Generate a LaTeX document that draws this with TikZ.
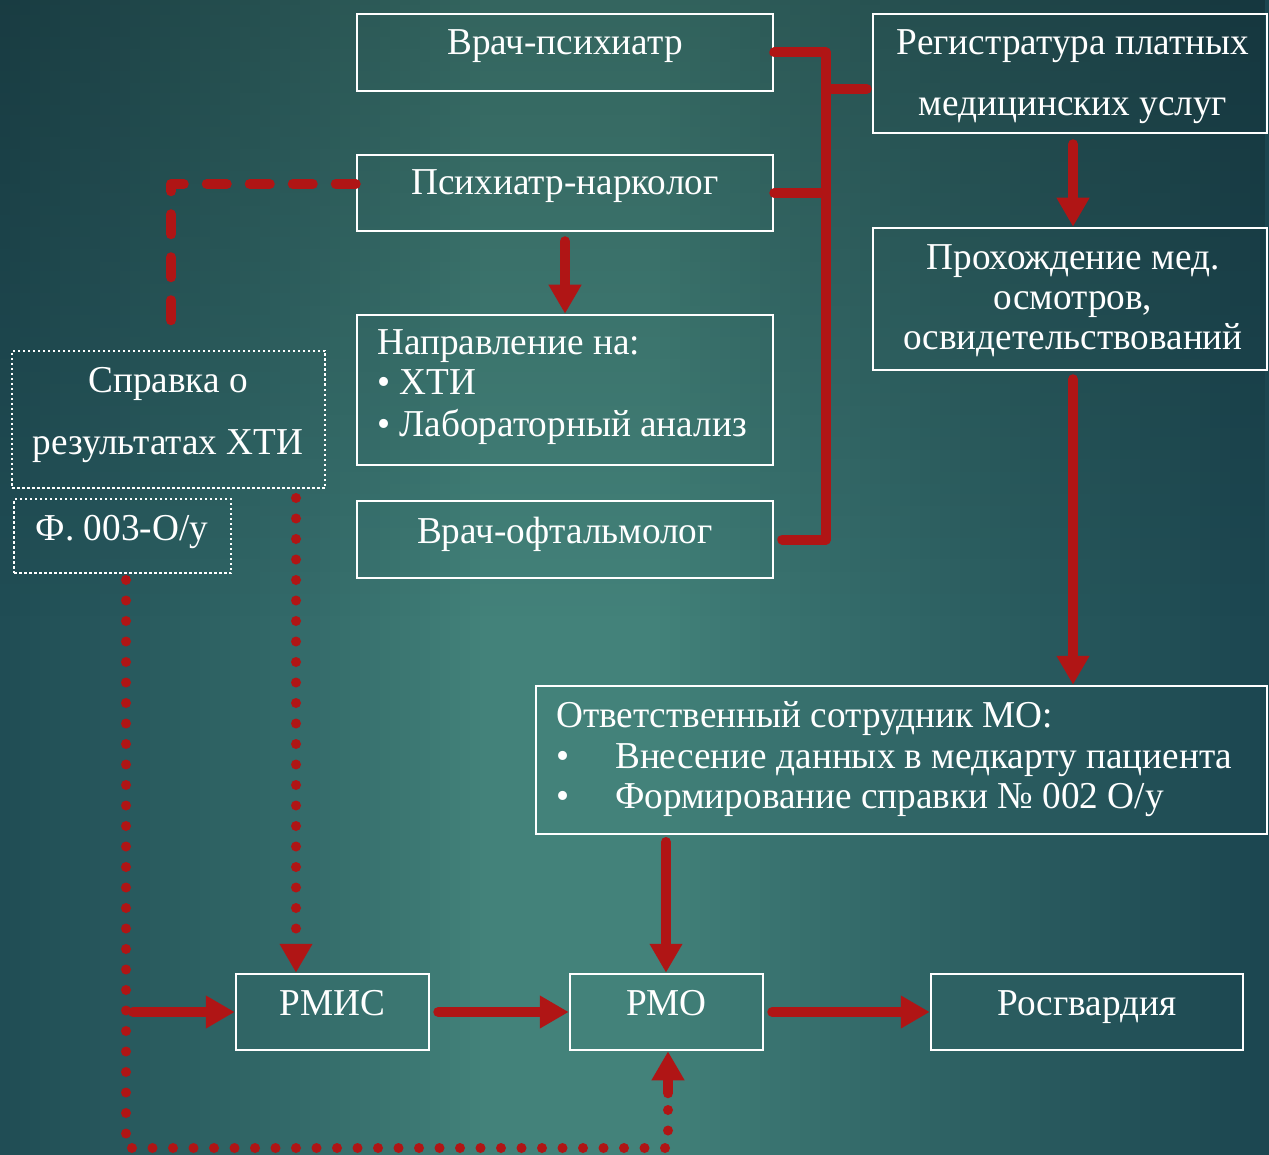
\documentclass[tikz,border=0pt]{standalone}
\usepackage{fontspec}
\setmainfont{Liberation Serif}[FakeStretch=0.98]
\usetikzlibrary{arrows.meta,fadings}
\definecolor{arr}{HTML}{B01515}
\definecolor{bglight}{HTML}{43827A}
\definecolor{bgdark}{HTML}{173F4B}
\tikzset{
  box/.style={draw=white, line width=2.5pt, inner sep=0pt},
  dbox/.style={draw=white, line width=2.5pt, inner sep=0pt, dash pattern=on 2.5pt off 2.5pt},
  txt/.style={text=white, font=\fontsize{38}{44}\selectfont, inner sep=0pt, anchor=base},
  ltxt/.style={txt, anchor=base west},
  link/.style={draw=arr, line width=10pt, line cap=round, line join=round},
  tipped/.style={-{Triangle[width=31pt,length=29pt]}},
  dashlink/.style={link, dash pattern=on 20pt off 23pt},
  dotlink/.style={link, dash pattern=on 0pt off 20.5pt},
}
\begin{document}
\begin{tikzpicture}[x=1pt,y=-1pt]
\useasboundingbox (0,0) rectangle (1269,1155);
% background
\begin{scope}
\clip (0,0) rectangle (1269,1155);
\foreach \i in {0,...,126} {
  \pgfmathsetmacro\xc{\i*10+5}
  \pgfmathsetmacro\tl{max(0.0001,(480-\xc)/480)}
  \pgfmathsetmacro\tr{max(0.0001,(\xc-660)/609)}
  \pgfmathsetmacro\pp{max(0,min(100,100-80*(\tl)^0.85-90*(\tr)^0.85))}
  \fill[bglight!\pp!bgdark] (\i*10,0) rectangle (\i*10+10.6,1155);
}
\fill[black, opacity=0.22, path fading=south] (0,0) rectangle (1269,620);
\end{scope}

% boxes
\node[box, minimum width=416pt, minimum height=77pt] (vp) at (565,52.5) {};
\node[box, minimum width=394pt, minimum height=119pt] (reg) at (1070,73.5) {};
\node[box, minimum width=416pt, minimum height=76pt] (nark) at (565,193) {};
\node[box, minimum width=416pt, minimum height=150pt] (napr) at (565,390) {};
\node[box, minimum width=394pt, minimum height=142pt] (proh) at (1070,299) {};
\node[dbox, minimum width=313pt, minimum height=137pt] (sprav) at (168.5,419.5) {};
\node[dbox, minimum width=217pt, minimum height=74pt] (form) at (122.5,536) {};
\node[box, minimum width=416pt, minimum height=77pt] (oft) at (565,539.5) {};
\node[box, minimum width=731pt, minimum height=148pt] (otv) at (901.5,760) {};
\node[box, minimum width=193pt, minimum height=76pt] (rmis) at (332.5,1012) {};
\node[box, minimum width=193pt, minimum height=76pt] (rmo) at (666.5,1012) {};
\node[box, minimum width=312pt, minimum height=76pt] (ros) at (1087,1012) {};

% texts
\node[txt] (t1) at (565,55) {Врач-психиатр};
\node[txt] (t2a) at (1073,55) {Регистратура платных};
\node[txt] (t2b) at (1073,116) {медицинских услуг};
\node[txt] (t3) at (565,195) {Психиатр-нарколог};
\node[ltxt] (t4a) at (377,355) {Направление на:};
\node[ltxt] (t4b) at (377,395) {• ХТИ};
\node[ltxt] (t4c) at (377,436) {• Лабораторный анализ};
\node[txt] (t5a) at (1073,270) {Прохождение мед.};
\node[txt] (t5b) at (1073,310) {осмотров,};
\node[txt] (t5c) at (1073,350) {освидетельствований};
\node[txt] (t6a) at (168,393) {Справка о};
\node[txt] (t6b) at (168,454) {результатах ХТИ};
\node[txt] (t7) at (122,540) {Ф. 003-О/у};
\node[txt] (t8) at (565,543) {Врач-офтальмолог};
\node[ltxt] (t9a) at (556,727) {Ответственный сотрудник МО:};
\node[ltxt] (t9b) at (556,768) {•};
\node[ltxt] (t9c) at (615,768) {Внесение данных в медкарту пациента};
\node[ltxt] (t9d) at (556,808) {•};
\node[ltxt] (t9e) at (615,808) {Формирование справки № 002 О/у};
\node[txt] (t10) at (332.5,1015) {РМИС};
\node[txt] (t11) at (666.5,1015) {РМО};
\node[txt] (t12) at (1087,1015) {Росгвардия};

% bracket
\coordinate (bx) at (826,0);
\draw[link] (vp.east) -- (vp.east -| bx) -- (oft.east -| bx) -- ([xshift=8pt]oft.east);
\draw[link] (nark.east) -- (nark.east -| bx);
\draw[link] ([yshift=-15.5pt]reg.west -| bx) -- ([xshift=-5pt,yshift=-15.5pt]reg.west);

% solid arrows
\draw[link, tipped] ([xshift=3pt,yshift=-10pt]reg.south) -- ([xshift=3pt]proh.north);
\draw[link, tipped] ([xshift=3pt,yshift=-8pt]proh.south) -- ([xshift=3pt]otv.north -| proh.south);
\draw[link, tipped] ([yshift=-9pt]nark.south) -- (napr.north);
\coordinate (oa) at (666,842);
\draw[link, tipped] (oa) -- (oa |- rmo.north);
\coordinate (ra) at (133,1012);
\draw[link, tipped] (ra) -- (rmis.west);
\draw[link, tipped] ([xshift=8pt]rmis.east) -- (rmo.west);
\draw[link, tipped] ([xshift=8pt]rmo.east) -- (ros.west);

% dashed
\coordinate (c1) at (171,184);
\draw[dashlink] (nark.west |- c1) -- (c1) -- ([yshift=18pt]sprav.north -| c1);

% dotted
\coordinate (d1) at (296,498);
\draw[dotlink, tipped] (d1) -- (d1 |- rmis.north);
\coordinate (d2) at (126,580);
\coordinate (d3) at (126,1148);
\coordinate (d4) at (668,1148);
\draw[dotlink] (d2) -- (d3) -- (d4) -- ([yshift=-44pt]d4 |- rmo.south);
\draw[link, tipped] ([yshift=-42pt]d4 |- rmo.south) -- (d4 |- rmo.south);
\end{tikzpicture}
\end{document}
